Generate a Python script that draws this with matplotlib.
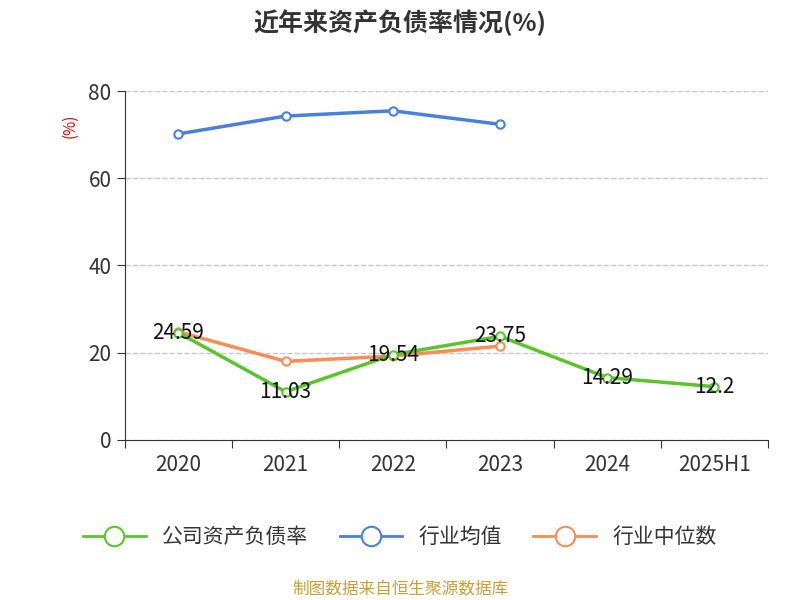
import numpy as np
import matplotlib.pyplot as plt
from matplotlib.lines import Line2D

plt.rcParams['font.family'] = ['Noto Sans CJK JP', 'Noto Sans CJK SC', 'DejaVu Sans']

years = ['2020', '2021', '2022', '2023', '2024', '2025H1']
company = [24.59, 11.03, 19.54, 23.75, 14.29, 12.2]
ind_mean = [70.2, 74.3, 75.5, 72.4]
ind_median = [24.8, 18.0, 19.2, 21.5]

green = '#5ac52a'
blue = '#4a80dd'
orange = '#f98d55'

fig = plt.figure(figsize=(8, 6), dpi=100)
ax = fig.add_axes([0.156, 0.267, 0.804, 0.581])
x = np.arange(len(years))

ax.plot(x[:4], ind_mean, color=blue, lw=2.5, marker='o', ms=6, mfc='white', mew=1.5, zorder=3)
ax.plot(x[:4], ind_median, color=orange, lw=2.5, marker='o', ms=6, mfc='white', mew=1.5, zorder=3)
ax.plot(x, company, color=green, lw=2.5, marker='o', ms=6, mfc='white', mew=1.5, zorder=4)
for xi, v in zip(x, company):
    ax.text(xi, v, f'{v:g}', ha='center', va='center', fontsize=15, color='#111111', zorder=5)

ax.set_xlim(-0.5, 5.5)
ax.set_ylim(0, 80)
ax.set_yticks([0, 20, 40, 60, 80])
ax.set_xticks(np.arange(-0.5, 6, 1))
ax.set_xticklabels([])
ax.set_xticks(x, minor=True)
ax.set_xticklabels(years, minor=True)
ax.tick_params(axis='x', which='minor', length=0, pad=10, labelsize=15, labelcolor='#333333')
ax.tick_params(axis='x', which='major', length=6, color='#333333')
ax.tick_params(axis='y', length=6, labelsize=15, labelcolor='#333333', color='#333333')
ax.grid(axis='y', ls='--', color='#c8c8c8', lw=1)
for s in ['top', 'right']:
    ax.spines[s].set_visible(False)
ax.spines['left'].set_color('#333333')
ax.spines['bottom'].set_color('#333333')
ax.text(-0.085, 0.9, '(%)', transform=ax.transAxes, rotation=90, color='#e00000', fontsize=11, ha='center', va='center')

fig.text(0.5, 0.962, '近年来资产负债率情况(%)', ha='center', va='center', fontsize=18, fontweight='bold', color='#333333')

handles = [Line2D([], [], color=c, lw=2, marker='o', ms=14, mfc='white', mew=1.5) for c in (green, blue, orange)]
fig.legend(handles, ['公司资产负债率', '行业均值', '行业中位数'], loc='center', bbox_to_anchor=(0.5, 0.105),
           ncol=3, frameon=False, fontsize=15, handlelength=3, columnspacing=1.5, labelcolor='#333333')
fig.text(0.5, 0.018, '制图数据来自恒生聚源数据库', ha='center', va='center', fontsize=12, color='#c8a03a')

fig.savefig('out.png')
